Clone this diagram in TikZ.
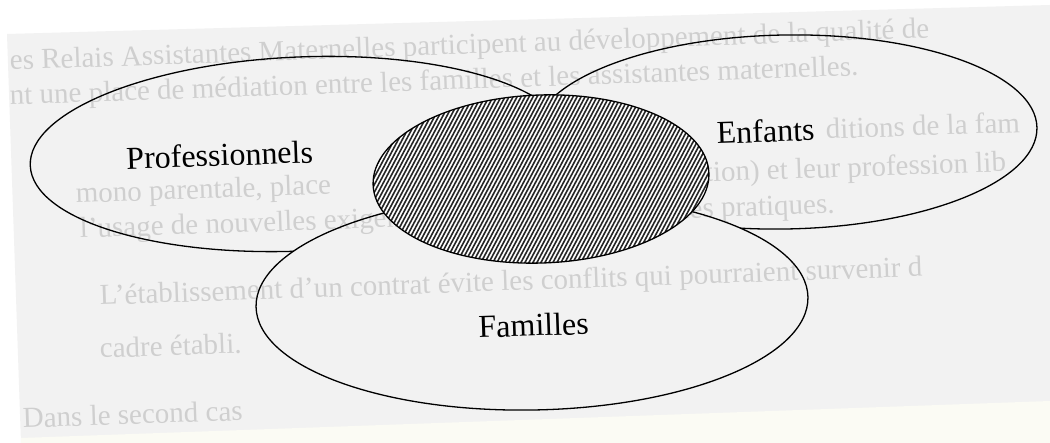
\documentclass[tikz,border=0pt]{standalone}
\usepackage{fontspec}
\setmainfont{Liberation Serif}
\definecolor{pagegray}{HTML}{F2F2F2}
\definecolor{cream}{HTML}{FBFBF4}
\begin{document}
\begin{tikzpicture}[x=1pt,y=-1pt,
  venn/.style={draw=black, line width=1.3pt, fill=pagegray},
  lbl/.style={font=\fontsize{32}{32}\selectfont, anchor=base, inner sep=0pt, rotate=2},
  ghost/.style={font=\fontsize{29}{29}\selectfont, anchor=base west, inner sep=0pt, text=black!14, rotate=2},
  ghoste/.style={ghost, anchor=base east},
  hatch/.style={line width=1.6pt, draw=black!85}]
\useasboundingbox (0,0) rectangle (1050,443);
% scanned page background
\fill[white] (0,0) rectangle (1050,443);
\fill[pagegray] (7,34) -- (1050,5) -- (1050,443) -- (21,443) -- cycle;
\fill[cream] (21,443) -- (21,438) -- (1050,401) -- (1050,443) -- cycle;
% the three sets
\path[venn, rotate around={2.5:(300,154)}] (300,154) ellipse [x radius=270pt, y radius=97pt];
\path[venn, rotate around={1:(785,132)}] (785,132) ellipse [x radius=252pt, y radius=97pt];
\path[venn, rotate around={1:(532,302)}] (532,302) ellipse [x radius=276pt, y radius=108pt];
% show-through text of the page beneath
\begin{scope}[blend mode=multiply]
\node[ghost] (g1) at (10,70) {es Relais Assistantes Maternelles participent au développement de la qualité de};
\node[ghost] (g2) at (10,105) {nt une place de médiation entre les familles et les assistantes maternelles.};
\node[ghost] (g3b) at (826,139) {ditions de la fam};
\node[ghost] (g4a) at (76,203) {mono parentale, place};
\node[ghost] (g4b) at (705,182) {tion) et leur profession lib};
\node[ghost] (g5a) at (80,238) {l'usage de nouvelles exigences};
\node[ghoste] (g5b) at (835,213) {nouvelles pratiques.};
\node[ghost] (g6) at (100,305) {L'établissement d'un contrat évite les conflits qui pourraient survenir d};
\node[ghost] (g7) at (100,358) {cadre établi.};
\node[ghost] (g8) at (23,428) {Dans le second cas};
\end{scope}
% hatched intersection
\begin{scope}
\clip[rotate around={2:(541,179)}] (541,179) ellipse [x radius=168pt, y radius=84pt];
\fill[white] (350,80) rectangle (730,280);
\foreach \k in {0,...,122} {
  \draw[hatch] ({245+4*\k},285) -- ++(-62:250);
}
\end{scope}
\draw[line width=1.3pt, rotate around={2:(541,179)}] (541,179) ellipse [x radius=168pt, y radius=84pt];
% labels
\node[lbl] (prof) at (220,166) {Professionnels};
\node[lbl] (enf) at (766,142) {Enfants};
\node[lbl] (fam) at (534,336) {Familles};
\end{tikzpicture}
\end{document}
